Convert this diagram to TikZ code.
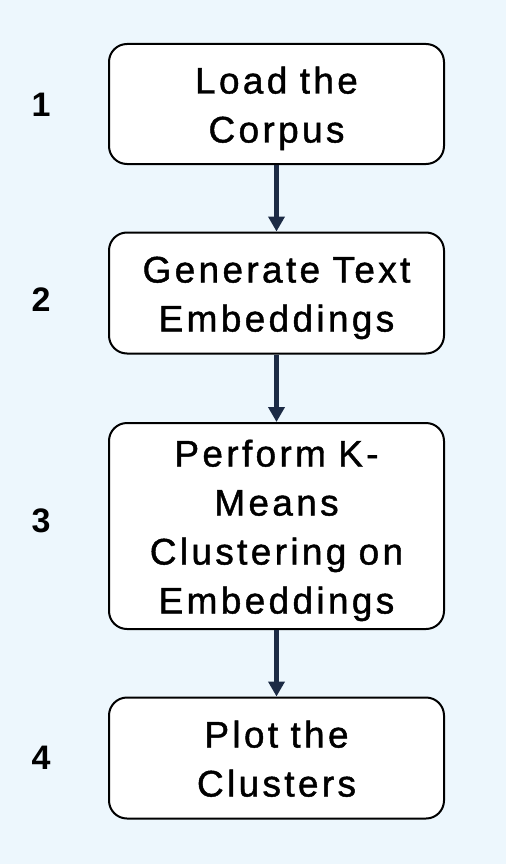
\documentclass[tikz,border=0pt]{standalone}
\usepackage{fontspec}
\usetikzlibrary{arrows.meta}
\newfontfamily\boxfont{Liberation Sans}[LetterSpace=9,FakeBold=1.2]
\newfontfamily\numfont{Liberation Sans}
\newcommand\bxs{\rule[-10.5pt]{0pt}{49pt}}
\definecolor{bgblue}{HTML}{EDF7FD}
\definecolor{arrnavy}{HTML}{1C2B45}
\tikzset{
  stepbox/.style={draw=black, line width=2pt, fill=white, rounded corners=18pt,
    minimum width=335pt, inner sep=0pt, align=center, text width=330pt,
    font=\boxfont\fontsize{37}{49}\selectfont},
  stepnum/.style={font=\numfont\bfseries\fontsize{34}{40}\selectfont, inner sep=0pt},
  flowarrow/.style={draw=arrnavy, line width=5pt, -{Triangle[width=16pt,length=15pt]}}
}
\begin{document}
\begin{tikzpicture}[x=1pt,y=-1pt]
  \fill[bgblue] (0,0) rectangle (506,864);
  \useasboundingbox (0,0) rectangle (506,864);
  \node[stepbox, minimum height=120pt] (b1) at (276.5,104) {\bxs Load the\\\bxs Corpus};
  \node[stepbox, minimum height=121pt] (b2) at (276.5,293) {\bxs Generate Text\\\bxs Embeddings};
  \node[stepbox, minimum height=206pt] (b3) at (276.5,526) {\bxs Perform K-\\\bxs Means\\\bxs Clustering on\\\bxs Embeddings};
  \node[stepbox, minimum height=121pt] (b4) at (276.5,758) {\bxs Plot the\\\bxs Clusters};
  \node[stepnum] (n1) at (41,105) {1};
  \node[stepnum] (n2) at (41,300) {2};
  \node[stepnum] (n3) at (41,521) {3};
  \node[stepnum] (n4) at (41,758) {4};
  \draw[flowarrow] (b1.south) -- (b2.north);
  \draw[flowarrow] (b2.south) -- (b3.north);
  \draw[flowarrow] (b3.south) -- (b4.north);
\end{tikzpicture}
\end{document}
